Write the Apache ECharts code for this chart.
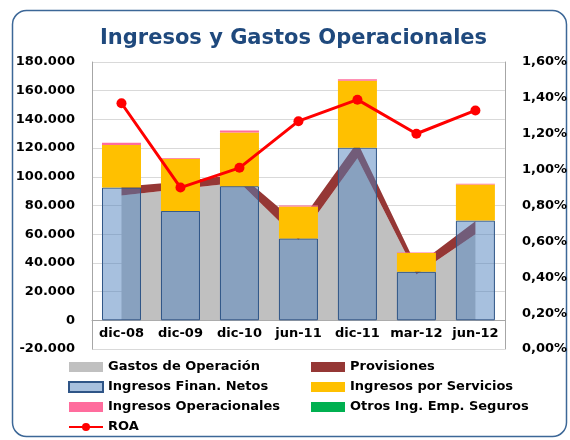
<!DOCTYPE html>
<html>
<head>
<meta charset="utf-8">
<title>Ingresos y Gastos Operacionales</title>
<script src="https://cdn.jsdelivr.net/npm/echarts@6/dist/echarts.min.js"></script>
<style>
    html, body { margin: 0; padding: 0; background: #fff; }
    #grafico { width: 570px; height: 440px; }
</style>
</head>
<body>
<div id="grafico"></div>
<script>
// datos (millones)
var categorias = ['dic-08', 'dic-09', 'dic-10', 'jun-11', 'dic-11', 'mar-12', 'jun-12'];
var gastosOperacion = [87000, 91500, 96000, 56000, 113000, 32000, 60000];
var provisiones = [6000, 5000, 6000, 11000, 11000, 6000, 9000];
var ingresosFinanNetos = [92500, 76200, 93500, 57000, 120300, 33800, 69500];
var ingresosServicios = [29600, 36400, 37300, 22300, 46600, 13100, 25200];
var ingresosOperacionales = [1600, 500, 1400, 700, 1000, 400, 500];
var otrosIngSeguros = [0, 0, 0, 0, 0, 0, 0];
var roa = [1.37, 0.90, 1.01, 1.27, 1.39, 1.20, 1.33];

var fuente = 'DejaVu Sans';
var altoGrid = 440 - 62 - 91;

function formatoMiles(v) { //180000 -> 180.000
    if (v === 0) return '0';
    var s = String(Math.abs(Math.round(v))).replace(/\B(?=(\d{3})+(?!\d))/g, '.');
    return (v < 0 ? '-' : '') + s;
}

function formatoPorc(v) { //1.6 -> 1,60%
    return v.toFixed(2).replace('.', ',') + '%';
}

var etiqueta = { color: '#000', fontFamily: fuente, fontWeight: 'bold', fontSize: 13 };

function crearLeyenda(left, items) { //leyenda vertical de una columna
    return {
        orient: 'vertical',
        left: left,
        top: 360,
        height: 80,
        padding: 0,
        itemWidth: 34,
        itemHeight: 10,
        itemGap: 6,
        textStyle: Object.assign({ lineHeight: 14 }, etiqueta),
        data: items
    };
}

var myChart = echarts.init(document.getElementById('grafico'), null, { renderer: 'canvas' });

var option = {
    animation: false,
    title: {
        text: 'Ingresos y Gastos Operacionales',
        left: 95,
        top: 23,
        textStyle: { color: '#1f497d', fontFamily: fuente, fontWeight: 'bold', fontSize: 21 }
    },
    graphic: [{
        type: 'rect',
        z: -1,
        shape: { x: 12.5, y: 10.5, width: 554, height: 426, r: 14 },
        style: { fill: 'none', stroke: '#3c6797', lineWidth: 1.5 }
    }],
    legend: [
        crearLeyenda(68, [
            { name: 'Gastos de Operación', icon: 'rect' },
            { name: 'Ingresos Finan. Netos', icon: 'rect' },
            { name: 'Ingresos Operacionales', icon: 'rect' },
            { name: 'ROA' }
        ]),
        crearLeyenda(311, [
            { name: 'Provisiones', icon: 'rect' },
            { name: 'Ingresos por Servicios', icon: 'rect' },
            { name: 'Otros Ing. Emp. Seguros', icon: 'rect' }
        ])
    ],
    grid: { left: 92, right: 61, top: 62, bottom: 91 },
    xAxis: {
        type: 'category',
        data: categorias,
        offset: -altoGrid / 10, // eje en el 0 (rango -20.000 a 180.000)
        axisLine: { onZero: false, lineStyle: { color: '#a6a6a6', width: 1 } },
        axisTick: { show: false },
        axisLabel: Object.assign({ margin: 7, interval: 0 }, etiqueta),
        splitLine: { show: false }
    },
    yAxis: [{
        type: 'value',
        min: -20000,
        max: 180000,
        interval: 20000,
        axisLine: { show: true, lineStyle: { color: '#a6a6a6' } },
        axisTick: { show: false },
        axisLabel: Object.assign({ margin: 17, formatter: formatoMiles }, etiqueta),
        splitLine: { lineStyle: { color: '#d9d9d9' } }
    }, {
        type: 'value',
        position: 'right',
        min: 0,
        max: 1.6,
        interval: 0.2,
        axisLine: { show: true, lineStyle: { color: '#a6a6a6' } },
        axisTick: { show: false },
        axisLabel: Object.assign({ margin: 17, formatter: formatoPorc }, etiqueta),
        splitLine: { show: false }
    }],
    series: [{
        name: 'Gastos de Operación',
        type: 'line',
        stack: 'gastos',
        z: 1,
        symbol: 'none',
        lineStyle: { width: 0 },
        itemStyle: { color: '#c0c0c0' },
        areaStyle: { color: '#c0c0c0', opacity: 1 },
        data: gastosOperacion
    }, {
        name: 'Provisiones',
        type: 'line',
        stack: 'gastos',
        z: 1,
        symbol: 'none',
        lineStyle: { width: 0 },
        itemStyle: { color: '#953735' },
        areaStyle: { color: '#953735', opacity: 1 },
        data: provisiones
    }, {
        name: 'Ingresos Finan. Netos',
        type: 'bar',
        stack: 'ingresos',
        z: 2,
        barWidth: 39,
        itemStyle: { color: 'rgba(79,129,189,0.5)', borderColor: '#2f5587', borderWidth: 1 },
        data: ingresosFinanNetos
    }, {
        name: 'Ingresos por Servicios',
        type: 'bar',
        stack: 'ingresos',
        z: 2,
        itemStyle: { color: '#ffc000' },
        data: ingresosServicios
    }, {
        name: 'Ingresos Operacionales',
        type: 'bar',
        stack: 'ingresos',
        z: 2,
        itemStyle: { color: '#ff6c9d' },
        data: ingresosOperacionales
    }, {
        name: 'Otros Ing. Emp. Seguros',
        type: 'bar',
        stack: 'ingresos',
        z: 2,
        itemStyle: { color: '#00b050' },
        data: otrosIngSeguros
    }, {
        name: 'ROA',
        type: 'line',
        yAxisIndex: 1,
        z: 3,
        symbol: 'circle',
        symbolSize: 10,
        lineStyle: { color: '#ff0000', width: 3 },
        itemStyle: { color: '#ff0000' },
        data: roa
    }]
};

myChart.setOption(option);
</script>
</body>
</html>
